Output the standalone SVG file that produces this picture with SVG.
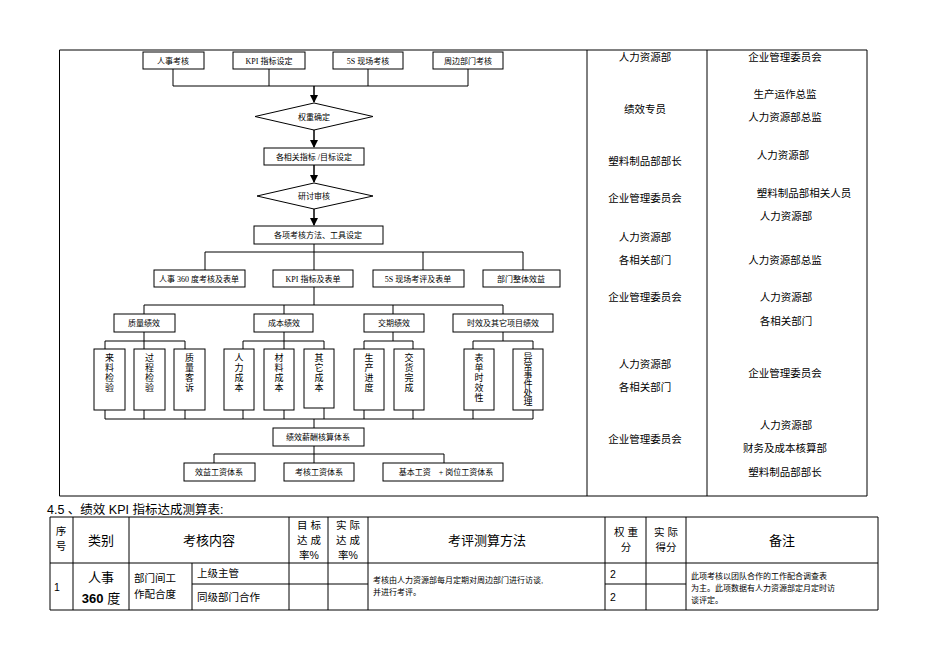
<svg xmlns="http://www.w3.org/2000/svg" width="950" height="671" viewBox="0 0 950 671">
<style>
.b{fill:#fff;stroke:#000;stroke-width:1}
.l{fill:none;stroke:#000;stroke-width:1}
.t{font-family:"Liberation Serif","Noto Sans CJK SC",serif;font-size:8px;fill:#000;text-anchor:middle}
.v{font-family:"Liberation Serif","Noto Sans CJK SC",serif;font-size:9px;fill:#000;text-anchor:middle}
.r{font-family:"Liberation Serif","Noto Sans CJK SC",serif;font-size:10.5px;fill:#000;text-anchor:middle}
.h{font-family:"Liberation Sans","Noto Sans CJK SC",sans-serif;fill:#000}
</style>
<defs><marker id="a" markerWidth="8" markerHeight="8" refX="7" refY="4" orient="auto" markerUnits="userSpaceOnUse"><path d="M0,0 L8,4 L0,8 z" fill="#000"/></marker></defs>
<rect width="950" height="671" fill="#fff"/>
<g id="frame" class="l">
<path d="M59.5,50 H867 V496 H59.5 Z M587,50 V496 M707,50 V496"/>
</g>
<g id="connectors" class="l">
<path d="M173,69 V86 M269,69 V86 M368,69 V86 M468,69 V86 M173,86 H468"/>
<path d="M314,86 V102" stroke-width="1.5" marker-end="url(#a)"/>
<path d="M314,130 V147" stroke-width="1.5" marker-end="url(#a)"/>
<path d="M314,165 V182" stroke-width="1.5" marker-end="url(#a)"/>
<path d="M314,209 V225" stroke-width="1.5" marker-end="url(#a)"/>
<path d="M314,244 V305 M205,252 H523 M205,252 V270 M423,252 V270 M523,252 V270"/>
<path d="M144,305 H503 M144,305 V314 M284,305 V314 M393,305 V314 M503,305 V314"/>
<path d="M144,332 V341 M105,341 H185 M105,341 V349 M144,341 V349 M185,341 V349"/>
<path d="M284,332 V341 M243,341 H324 M243,341 V349 M284,341 V349 M324,341 V349"/>
<path d="M393,332 V341 M364,341 H413 M364,341 V349 M413,341 V349"/>
<path d="M503,332 V341 M473,341 H533 M473,341 V349 M533,341 V349"/>
<path d="M105,410 V419 M144,410 V419 M185,410 V419 M243,410 V419 M284,410 V419 M324,408 V419 M364,410 V419 M413,410 V419 M473,410 V419 M533,410 V419 M105,419 H533 M314,419 V428"/>
<path d="M314,446 V463 M214,454 H444 M214,454 V463 M444,454 V463"/>
</g>
<g id="n1"><rect class="b" x="143" y="52" width="61" height="17"/><text class="t" x="173" y="63.5">人事考核</text></g>
<g id="n2"><rect class="b" x="233" y="52" width="72" height="17"/><text class="t" x="269" y="63.5">KPI 指标设定</text></g>
<g id="n3"><rect class="b" x="333" y="52" width="70" height="17"/><text class="t" x="368" y="63.5">5S 现场考核</text></g>
<g id="n4"><rect class="b" x="433" y="52" width="70" height="17"/><text class="t" x="468" y="63.5">周边部门考核</text></g>
<g id="d1"><polygon class="b" points="255,116.5 314,103 373,116.5 314,130"/><text class="t" x="314" y="119.5">权重确定</text></g>
<g id="n5"><rect class="b" x="264" y="148" width="100" height="17"/><text class="t" x="314" y="159.5">各相关指标 /目标设定</text></g>
<g id="d2"><polygon class="b" points="257,196 314,183 373,196 314,209"/><text class="t" x="314" y="199">研讨审核</text></g>
<g id="n6"><rect class="b" x="254" y="226" width="129" height="18"/><text class="t" x="318" y="238">各项考核方法、工具设定</text></g>
<g id="n7"><rect class="b" x="154" y="270" width="91" height="17"/><text class="t" x="199" y="281.5">人事 360 度考核及表单</text></g>
<g id="n8"><rect class="b" x="273" y="270" width="80" height="17"/><text class="t" x="313" y="281.5">KPI 指标及表单</text></g>
<g id="n9"><rect class="b" x="373" y="270" width="91" height="17"/><text class="t" x="418" y="281.5">5S 现场考评及表单</text></g>
<g id="n10"><rect class="b" x="483" y="270" width="77" height="17"/><text class="t" x="521" y="281.5">部门整体效益</text></g>
<g id="c1"><rect class="b" x="114" y="314" width="61" height="18"/><text class="t" x="144" y="326">质量绩效</text></g>
<g id="c2"><rect class="b" x="254" y="314" width="59" height="18"/><text class="t" x="284" y="326">成本绩效</text></g>
<g id="c3"><rect class="b" x="364" y="314" width="60" height="18"/><text class="t" x="394" y="326">交期绩效</text></g>
<g id="c4"><rect class="b" x="453" y="314" width="100" height="18"/><text class="t" x="503" y="326">时效及其它项目绩效</text></g>
<g id="leaves">
<g id="l1"><rect class="b" x="94" y="349" width="31" height="61"/><text class="v"><tspan x="109.5" y="361">来</tspan><tspan x="109.5" y="371">料</tspan><tspan x="109.5" y="381">检</tspan><tspan x="109.5" y="391">验</tspan></text></g>
<g id="l2"><rect class="b" x="134" y="349" width="31" height="61"/><text class="v"><tspan x="149.5" y="361">过</tspan><tspan x="149.5" y="371">程</tspan><tspan x="149.5" y="381">检</tspan><tspan x="149.5" y="391">验</tspan></text></g>
<g id="l3"><rect class="b" x="174" y="349" width="31" height="61"/><text class="v"><tspan x="189.5" y="361">质</tspan><tspan x="189.5" y="371">量</tspan><tspan x="189.5" y="381">客</tspan><tspan x="189.5" y="391">诉</tspan></text></g>
<g id="l4"><rect class="b" x="224" y="349" width="30" height="61"/><text class="v"><tspan x="239" y="361">人</tspan><tspan x="239" y="371">力</tspan><tspan x="239" y="381">成</tspan><tspan x="239" y="391">本</tspan></text></g>
<g id="l5"><rect class="b" x="264" y="349" width="30" height="61"/><text class="v"><tspan x="279" y="361">材</tspan><tspan x="279" y="371">料</tspan><tspan x="279" y="381">成</tspan><tspan x="279" y="391">本</tspan></text></g>
<g id="l6"><rect class="b" x="304" y="349" width="30" height="59"/><text class="v"><tspan x="319" y="361">其</tspan><tspan x="319" y="371">它</tspan><tspan x="319" y="381">成</tspan><tspan x="319" y="391">本</tspan></text></g>
<g id="l7"><rect class="b" x="354" y="349" width="30" height="61"/><text class="v"><tspan x="369" y="361">生</tspan><tspan x="369" y="371">产</tspan><tspan x="369" y="381">进</tspan><tspan x="369" y="391">度</tspan></text></g>
<g id="l8"><rect class="b" x="394" y="349" width="30" height="61"/><text class="v"><tspan x="409" y="361">交</tspan><tspan x="409" y="371">货</tspan><tspan x="409" y="381">完</tspan><tspan x="409" y="391">成</tspan></text></g>
<g id="l9"><rect class="b" x="464" y="349" width="30" height="61"/><text class="v"><tspan x="479" y="361">表</tspan><tspan x="479" y="371">单</tspan><tspan x="479" y="381">时</tspan><tspan x="479" y="391">效</tspan><tspan x="479" y="401">性</tspan></text></g>
<g id="l10"><rect class="b" x="513" y="349" width="30" height="61"/><text class="v" font-size="8"><tspan x="528" y="360">异</tspan><tspan x="528" y="369">常</tspan><tspan x="528" y="378">事</tspan><tspan x="528" y="387">件</tspan><tspan x="528" y="396">处</tspan><tspan x="528" y="405">理</tspan></text></g>
</g>
<g id="n11"><rect class="b" x="273" y="428" width="91" height="18"/><text class="t" x="318" y="440">绩效薪酬核算体系</text></g>
<g id="n12"><rect class="b" x="184" y="463" width="71" height="18"/><text class="t" x="219" y="475">效益工资体系</text></g>
<g id="n13"><rect class="b" x="284" y="463" width="70" height="18"/><text class="t" x="319" y="475">考核工资体系</text></g>
<g id="n14"><rect class="b" x="383" y="463" width="120" height="18"/><text class="t" x="446" y="475">基本工资　+ 岗位工资体系</text></g>
<g id="resp" class="r">
<text x="645" y="61">人力资源部</text>
<text x="645" y="113">绩效专员</text>
<text x="645" y="165">塑料制品部部长</text>
<text x="645" y="202">企业管理委员会</text>
<text x="645" y="241">人力资源部</text>
<text x="645" y="264">各相关部门</text>
<text x="645" y="301">企业管理委员会</text>
<text x="645" y="368">人力资源部</text>
<text x="645" y="391">各相关部门</text>
<text x="645" y="443">企业管理委员会</text>
<text x="785" y="61">企业管理委员会</text>
<text x="785" y="98">生产运作总监</text>
<text x="785" y="121">人力资源部总监</text>
<text x="783" y="159">人力资源部</text>
<text x="804" y="197">塑料制品部相关人员</text>
<text x="786" y="220">人力资源部</text>
<text x="785" y="264">人力资源部总监</text>
<text x="786" y="301">人力资源部</text>
<text x="786" y="325">各相关部门</text>
<text x="785" y="377">企业管理委员会</text>
<text x="786" y="429">人力资源部</text>
<text x="785" y="452">财务及成本核算部</text>
<text x="785" y="476">塑料制品部部长</text>
</g>
<text class="h" x="47" y="514" font-size="12.5">4.5 、绩效  KPI 指标达成测算表:</text>
<g id="table">
<path class="l" d="M50,517 H878 V610 H50 Z M50,563 H878 M73,517 V610 M129,517 V610 M192,563 V610 M289,517 V610 M328,517 V610 M368,517 V610 M605,517 V610 M646,517 V610 M686,517 V610 M192,584 H368 M605,584 H686"/>
<g class="h" font-size="10.5" text-anchor="middle">
<text x="61" y="535">序</text><text x="61" y="550">号</text>
<text x="101" y="545" font-size="13">类别</text>
<text x="209" y="545" font-size="13">考核内容</text>
<text x="309" y="529">目 标</text><text x="309" y="544">达 成</text><text x="309" y="559">率%</text>
<text x="348" y="529">实 际</text><text x="348" y="544">达 成</text><text x="348" y="559">率%</text>
<text x="487" y="545" font-size="13">考评测算方法</text>
<text x="626" y="536">权 重</text><text x="626" y="551">分</text>
<text x="666" y="536">实 际</text><text x="666" y="551">得分</text>
<text x="782" y="545" font-size="13">备注</text>
</g>
<g class="h" font-size="10.5">
<text x="54" y="591">1</text>
<text x="101" y="582" font-size="13" text-anchor="middle">人事</text>
<text x="101" y="603" font-size="13" text-anchor="middle"><tspan font-weight="bold">360</tspan> 度</text>
<text x="134" y="582">部门间工</text><text x="134" y="598">作配合度</text>
<text x="197" y="577">上级主管</text><text x="197" y="601">同级部门合作</text>
<text x="373" y="583" font-size="8">考核由人力资源部每月定期对周边部门进行访谈,</text>
<text x="373" y="595" font-size="8">并进行考评。</text>
<text x="610" y="578">2</text><text x="610" y="601">2</text>
<text x="691" y="579" font-size="8">此项考核以团队合作的工作配合调查表</text>
<text x="691" y="591" font-size="8">为主。此项数据有人力资源部定月定时访</text>
<text x="691" y="603" font-size="8">谈评定。</text>
</g>
</g>
</svg>
